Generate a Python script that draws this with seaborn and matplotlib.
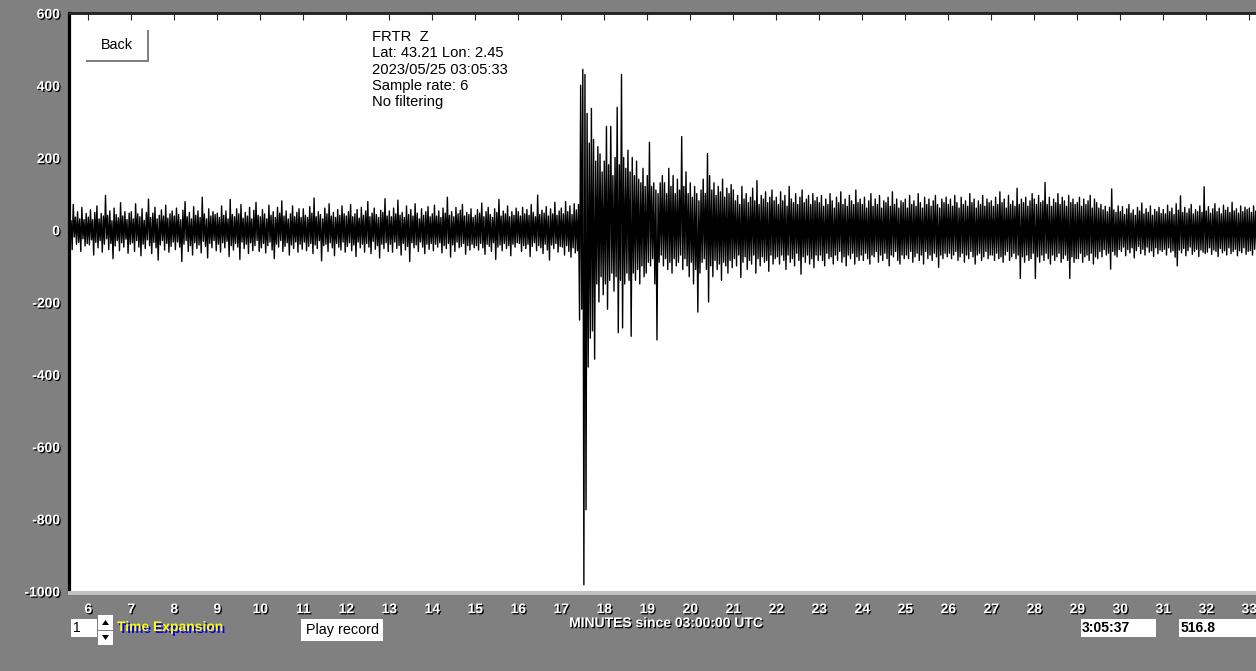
import numpy as np
import pandas as pd
import matplotlib
matplotlib.use("Agg")
import matplotlib.pyplot as plt
import matplotlib.patheffects as pe
from matplotlib.patches import Rectangle, Polygon
import seaborn as sns

# decimated seismogram: per-step upper / lower peaks (counts), step DT minutes
DT = 0.05
PRE_START = 5.55
EVENT_START = 17.40
CODA_START = 21.00

pre_hi = [
    40, 25, 70, 35, 50, 30, 62, 28, 45,
    35, 55, 28, 48, 66, 30, 45, 38, 95, 40, 52, 25, 60, 42, 33, 75, 38, 50, 28, 46,
    50, 30, 72, 44, 36, 58, 26, 48, 85, 34, 46, 62, 30, 40, 55, 38, 68, 32, 44, 52,
    38, 60, 42, 28, 54, 78, 36, 48, 30, 64, 40, 52, 34, 90, 44, 30, 58, 38, 50, 42,
    46, 34, 66, 40, 52, 30, 84, 42, 36, 58, 44, 70, 32, 48, 38, 62, 30, 54, 76, 40,
    36, 56, 44, 30, 68, 40, 50, 34, 62, 46, 80, 38, 52, 30, 44, 66, 36, 48, 58, 34,
    58, 40, 34, 64, 46, 88, 36, 50, 42, 30, 60, 44, 72, 38, 48, 34, 56, 40, 66, 44,
    38, 50, 70, 36, 44, 56, 32, 62, 40, 52, 78, 36, 46, 60, 42, 34, 54, 48, 86, 38,
    52, 36, 60, 44, 82, 40, 48, 34, 66, 42, 56, 38, 72, 46, 30, 58, 40, 50, 64, 36,
    44, 68, 38, 52, 34, 60, 46, 90, 40, 50, 36, 62, 44, 54, 70, 38, 48, 42, 58, 34,
    40, 56, 46, 74, 36, 50, 62, 42, 34, 58, 48, 84, 38, 52, 44, 66, 36, 50, 40, 60,
    50, 38, 62, 44, 56, 40, 70, 48, 36, 96, 42, 54, 46, 64, 38, 58, 44, 76, 40, 52,
    60, 44, 78, 50, 66, 42, 72, 55,
]
pre_lo = [
    -30, -55, -20, -40, -35, -60, -25, -45, -38,
    -42, -28, -70, -35, -50, -30, -62, -40, -25, -55, -38, -80, -45, -30, -58, -36, -48, -26, -65, -40,
    -36, -60, -30, -48, -72, -40, -52, -28, -44, -66, -35, -50, -84, -42, -30, -56, -38, -62, -46, -34,
    -55, -34, -48, -88, -40, -30, -60, -44, -70, -36, -52, -42, -64, -32, -46, -78, -38, -50, -30, -58,
    -40, -62, -36, -50, -32, -74, -44, -56, -38, -48, -82, -34, -52, -40, -66, -36, -58, -44, -30, -60,
    -50, -38, -64, -44, -34, -56, -80, -40, -48, -30, -60, -46, -36, -70, -42, -52, -34, -62, -40, -54,
    -34, -58, -46, -38, -66, -42, -52, -30, -86, -44, -40, -60, -36, -50, -72, -38, -48, -56, -34, -62,
    -46, -36, -58, -42, -74, -34, -50, -40, -62, -38, -48, -66, -32, -54, -44, -78, -40, -52, -36, -60,
    -40, -62, -34, -52, -44, -70, -38, -56, -46, -88, -36, -50, -42, -60, -34, -48, -66, -40, -54, -38,
    -58, -40, -48, -36, -64, -44, -52, -38, -76, -42, -60, -34, -50, -46, -38, -68, -44, -56, -40, -50,
    -44, -56, -38, -50, -68, -40, -46, -60, -36, -82, -48, -42, -58, -38, -52, -44, -72, -40, -48, -36,
    -38, -60, -44, -52, -40, -74, -46, -36, -58, -44, -50, -66, -40, -56, -84, -42, -52, -38, -62, -46,
    -48, -70, -44, -60, -76, -50, -64, -58,
]

event_hi = [
    70, 400, 444, 430, 322, 240, 336, 250, 190, 230, 210, 160,
    190, 286, 180, 286, 150, 200, 339, 180, 430, 200, 170, 220, 160, 200, 150, 190, 140, 130, 170, 120,
    150, 242, 120, 130, 110, 100, 130, 150, 130, 100, 170, 120, 150, 100, 140, 110, 258, 120, 160, 100,
    130, 90, 120, 100, 80, 110, 140, 100, 211, 150, 110, 130, 95, 120, 105, 140, 90, 115, 100, 125,
]
event_lo = [
    -250, -220, -983, -775, -380, -300, -280, -358, -150, -200, -130, -180,
    -150, -220, -140, -120, -170, -130, -285, -140, -272, -150, -120, -140, -295, -120, -140, -110, -150, -100, -130, -120,
    -90, -100, -80, -150, -305, -90, -70, -100, -80, -110, -90, -120, -80, -100, -90, -70, -110, -80, -100, -130,
    -90, -150, -110, -228, -120, -90, -80, -110, -200, -100, -130, -85, -110, -95, -140, -90, -100, -120, -85, -105,
]

coda_hi = [
    110, 80, 95, 70, 120, 85, 100, 75, 90, 115, 80, 136, 70, 95, 85, 105, 75, 90, 110, 80,
    90, 70, 105, 80, 95, 65, 120, 85, 75, 100, 70, 90, 110, 75, 85, 95, 70, 100, 80, 90,
    75, 95, 65, 85, 70, 100, 80, 60, 90, 75, 105, 70, 85, 65, 95, 80, 70, 110, 75, 85,
    70, 90, 60, 80, 100, 65, 85, 70, 95, 60, 80, 75, 90, 65, 105, 70, 85, 60, 80, 75,
    85, 60, 95, 70, 80, 65, 100, 75, 60, 90, 70, 85, 65, 80, 95, 70, 60, 85, 75, 90,
    70, 85, 65, 95, 75, 60, 90, 70, 80, 65, 100, 75, 85, 60, 80, 70, 95, 65, 85, 75,
    80, 65, 90, 70, 105, 75, 85, 60, 95, 70, 80, 65, 115, 70, 85, 75, 90, 65, 80, 100,
    85, 70, 95, 75, 80, 131, 70, 90, 65, 85, 75, 100, 70, 90, 80, 65, 95, 75, 85, 70,
    75, 90, 65, 85, 70, 80, 95, 60, 85, 75, 60, 70, 55, 65, 50, 62, 113, 55, 48, 66,
    50, 64, 42, 58, 70, 46, 55, 40, 62, 52, 74, 44, 58, 48, 66, 40, 56, 50, 62, 45,
    56, 44, 68, 50, 60, 42, 72, 54, 94, 48, 62, 46, 58, 70, 44, 56, 50, 66, 48, 119,
    52, 64, 46, 58, 72, 50, 60, 44, 68, 54, 62, 48, 76, 52, 58, 46, 66, 50, 62, 56,
    60, 48, 66, 52,
]
coda_lo = [
    -80, -100, -70, -132, -90, -75, -110, -85, -95, -70, -120, -80, -100, -75, -90, -85, -115, -70, -95, -80,
    -75, -95, -70, -85, -110, -70, -90, -80, -100, -65, -85, -123, -75, -90, -70, -95, -80, -105, -70, -85,
    -70, -85, -100, -65, -80, -75, -95, -70, -85, -60, -90, -75, -100, -70, -80, -65, -95, -75, -85, -70,
    -85, -65, -80, -95, -70, -75, -60, -90, -70, -85, -65, -80, -100, -70, -75, -60, -85, -95, -70, -80,
    -70, -80, -60, -90, -75, -65, -85, -70, -95, -60, -80, -70, -85, -65, -75, -104, -70, -80, -65, -75,
    -65, -80, -70, -60, -85, -75, -65, -90, -70, -80, -60, -75, -95, -70, -65, -85, -75, -60, -80, -70,
    -70, -85, -65, -80, -75, -90, -70, -60, -85, -75, -65, -80, -70, -135, -75, -90, -70, -85, -80, -65,
    -135, -75, -90, -70, -85, -65, -80, -95, -70, -85, -75, -65, -90, -80, -70, -85, -135, -75, -90, -80,
    -80, -65, -90, -75, -70, -85, -65, -95, -75, -80, -60, -75, -55, -70, -65, -109, -60, -70, -75, -55,
    -60, -48, -72, -55, -64, -50, -78, -58, -46, -66, -54, -70, -48, -62, -58, -74, -50, -66, -56, -60,
    -54, -70, -50, -62, -58, -76, -100, -56, -64, -52, -72, -58, -48, -68, -60, -54, -74, -56, -62, -66,
    -62, -50, -68, -56, -60, -74, -52, -64, -58, -70, -50, -66, -60, -54, -72, -58, -64, -50, -68, -60,
    -58, -70, -54, -64,
]

x_ticks = list(range(6, 34))
y_ticks = [600, 400, 200, 0, -200, -400, -600, -800, -1000]
info_lines = ["FRTR  Z", "Lat: 43.21 Lon: 2.45", "2023/05/25 03:05:33",
              "Sample rate: 6", "No filtering"]
x_label = "MINUTES since 03:00:00 UTC"
cursor_time = "3:05:37"
cursor_value = "516.8"


def segment(start, hi, lo):
    n = min(len(hi), len(lo))
    t = start + DT * np.arange(n)
    x = np.column_stack([t, t + DT / 2]).ravel()
    y = np.column_stack([hi[:n], lo[:n]]).ravel()
    return x, y


parts = [segment(PRE_START, pre_hi, pre_lo),
         segment(EVENT_START, event_hi, event_lo),
         segment(CODA_START, coda_hi, coda_lo)]
df = pd.DataFrame({
    "minute": np.concatenate([p[0] for p in parts]),
    "counts": np.concatenate([p[1] for p in parts]),
})

sns.set_style("white")
plt.rcParams["font.family"] = ["Liberation Sans", "DejaVu Sans"]
plt.rcParams["axes.unicode_minus"] = False

W, H = 1256, 671
GRAY = "#808080"
fig = plt.figure(figsize=(W / 100, H / 100), dpi=100, facecolor=GRAY)


def fx(x):
    return x / W


def fy(y):
    return 1 - y / H


ax = fig.add_axes([fx(69), fy(591), fx(W - 69), 578 / H])
ax.set_facecolor("white")

sns.lineplot(data=df, x="minute", y="counts", color="black", linewidth=1.0,
             estimator=None, sort=False, ax=ax)

ax.set_xlim(5.551, 33.156)
ax.set_ylim(-1000, 600)
ax.set_xlabel("")
ax.set_ylabel("")

ax.set_xticks(x_ticks)
ax.set_yticks(y_ticks)
ax.tick_params(axis="x", direction="in", length=3.6, width=0.8, color="black",
               pad=8, labelsize=10, labelcolor="white")
ax.tick_params(axis="y", direction="in", length=5, width=0.8, color="black",
               pad=6.5, labelsize=10, labelcolor="white")
shadow = [pe.SimplePatchShadow(offset=(0.9, -0.9), shadow_rgbFace="black", alpha=1.0), pe.Normal()]
for lbl in ax.get_xticklabels() + ax.get_yticklabels():
    lbl.set_fontweight("bold")
    lbl.set_path_effects(shadow)

top = ax.secondary_xaxis("top")
top.set_xticks(x_ticks)
top.tick_params(direction="in", length=5, width=0.8, labeltop=False)
top.spines["top"].set_linewidth(1.8)
top.spines["top"].set_color("black")

ax.spines["left"].set_linewidth(2.3)
ax.spines["left"].set_color("black")
ax.spines["top"].set_linewidth(1.8)
ax.spines["right"].set_visible(False)
ax.spines["bottom"].set_visible(False)

# light strip under the trace area
fig.patches.append(Rectangle((fx(68), fy(595)), fx(W - 68), 4 / H, transform=fig.transFigure,
                             facecolor="#c0c0c0", edgecolor="none", zorder=3))

# info block
for i, line in enumerate(info_lines):
    fig.text(fx(372), fy(37 + i * 16.3), line, fontsize=10.6, color="black",
             ha="left", va="center")

# Back button
fig.patches.append(Rectangle((fx(86), fy(62)), fx(63), 32 / H, transform=fig.transFigure,
                             facecolor="white", edgecolor="none", zorder=3))
fig.patches.append(Rectangle((fx(86), fy(62)), fx(63), 2 / H, transform=fig.transFigure,
                             facecolor=GRAY, edgecolor="none", zorder=4))
fig.patches.append(Rectangle((fx(147), fy(62)), fx(2), 32 / H, transform=fig.transFigure,
                             facecolor=GRAY, edgecolor="none", zorder=4))
fig.text(fx(117), fy(45), "Back", fontsize=10.4, color="black", ha="center", va="center", zorder=5)

fig.text(fx(666), fy(623), x_label, fontsize=10, fontweight="bold", color="white",
         ha="center", va="center", path_effects=shadow)

# bottom controls
fig.patches.append(Rectangle((fx(71), fy(637)), fx(26), 18 / H, transform=fig.transFigure,
                             facecolor="white", edgecolor="none"))
fig.text(fx(73), fy(628), "1", fontsize=10, color="black", ha="left", va="center")
for y0, y1 in [(615, 630), (631, 645)]:
    fig.patches.append(Rectangle((fx(98), fy(y1)), fx(15), (y1 - y0) / H, transform=fig.transFigure,
                                 facecolor="white", edgecolor="none"))
fig.patches.append(Polygon([(fx(102), fy(625)), (fx(109), fy(625)), (fx(105.5), fy(620))],
                           closed=True, transform=fig.transFigure, facecolor="black", edgecolor="none"))
fig.patches.append(Polygon([(fx(102), fy(635)), (fx(109), fy(635)), (fx(105.5), fy(640))],
                           closed=True, transform=fig.transFigure, facecolor="black", edgecolor="none"))
fig.text(fx(117), fy(627), "Time Expansion", fontsize=10, fontweight="bold", color="#ffff00",
         ha="left", va="center",
         path_effects=[pe.SimplePatchShadow(offset=(1.4, -1.4), shadow_rgbFace="#0000ff", alpha=1.0),
                       pe.Normal()])

fig.patches.append(Rectangle((fx(301), fy(641)), fx(82), 22 / H, transform=fig.transFigure,
                             facecolor="white", edgecolor="none"))
fig.text(fx(342), fy(630), "Play record", fontsize=10.4, color="black", ha="center", va="center")

fig.patches.append(Rectangle((fx(1081), fy(637)), fx(75), 18 / H, transform=fig.transFigure,
                             facecolor="white", edgecolor="none"))
fig.text(fx(1082), fy(628), cursor_time, fontsize=10, fontweight="bold", color="black",
         ha="left", va="center")
fig.patches.append(Rectangle((fx(1179), fy(637)), fx(80), 18 / H, transform=fig.transFigure,
                             facecolor="white", edgecolor="none"))
fig.text(fx(1181), fy(628), cursor_value, fontsize=10, fontweight="bold", color="black",
         ha="left", va="center")

fig.savefig("out.png", dpi=100, facecolor=GRAY)
